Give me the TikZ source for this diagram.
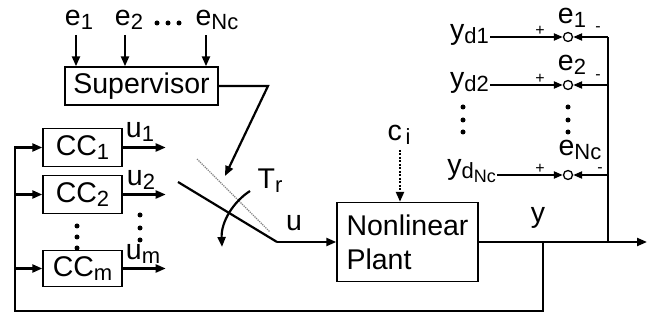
\documentclass[tikz,border=0pt]{standalone}
\usepackage{fontspec}
\setmainfont{Liberation Sans}
\usetikzlibrary{arrows.meta}
\newcommand\sbx[1]{\raisebox{-0.28ex}{\fontsize{22}{24}\selectfont #1}}
\newcommand\sbxx[1]{\raisebox{-0.35ex}{\fontsize{18}{20}\selectfont #1}}
\begin{document}
\begin{tikzpicture}[x=1pt,y=-1pt,
  font=\fontsize{28.5}{34}\selectfont,
  blk/.style={draw, line width=1.4pt, inner sep=0pt},
  lbl/.style={inner sep=1pt},
  ln/.style={line width=2.2pt},
  arr/.style={ln, -{Triangle[length=10pt,width=8pt]}},
  sarr/.style={line width=2pt, -{Triangle[length=9pt,width=7pt]}},
  sm/.style={inner sep=0pt, font=\fontsize{16}{16}\selectfont},
  dt/.style={fill, circle, inner sep=0pt, minimum size=5pt},
  sj/.style={draw, circle, line width=1.3pt, inner sep=0pt, minimum size=9pt}
]
\useasboundingbox (0,0) rectangle (656,320);

% blocks
\node[blk, minimum width=153pt, minimum height=38pt] (sup) at (141.5,86) {Supervisor};
\node[blk, minimum width=79pt, minimum height=38pt] (cc1) at (82.5,147.5) {CC\sbx{1}};
\node[blk, minimum width=79pt, minimum height=38pt] (cc2) at (82.5,194.5) {CC\sbx{2}};
\node[blk, minimum width=79pt, minimum height=36pt] (ccm) at (82.5,268.5) {CC\sbx{m}};
\node[blk, minimum width=141pt, minimum height=79pt, align=left] (plant) at (407.5,242) {Nonlinear\\Plant};

% supervisor inputs
\node[lbl] (e1) at (79,20) {e\sbx{1}};
\node[lbl] (e2) at (129,20) {e\sbx{2}};
\node[lbl] (eN) at (217,20) {e\sbx{Nc}};
\node[dt] (h1) at (157,23) {};
\node[dt] (h2) at (168,23) {};
\node[dt] (h3) at (179,23) {};
\draw[arr] ([xshift=-3pt,yshift=-4pt]e1.south) -- ([xshift=-3pt]e1.south |- sup.north);
\draw[arr] ([xshift=-4pt,yshift=-4pt]e2.south) -- ([xshift=-4pt]e2.south |- sup.north);
\draw[arr] ([xshift=-11pt,yshift=-4pt]eN.south) -- ([xshift=-11pt]eN.south |- sup.north);

% supervisor to switch
\coordinate (sk) at (268,86);
\coordinate (st) at (225,176);
\draw[arr] (sup.east) -- (sk) -- (st);

% controller outputs
\draw[arr] (cc1.east) -- ++(43,0) coordinate (u1e);
\draw[arr] (cc2.east) -- ++(43,0) coordinate (u2e);
\draw[arr] (ccm.east) -- ++(43,0) coordinate (ume);
\node[lbl] (u1) at (140,132) {u\sbx{1}};
\node[lbl] (u2) at (141,180) {u\sbx{2}};
\node[lbl] (um) at (143,254) {u\sbx{m}};
\node[dt] (a1) at (77,226) {};
\node[dt] (a2) at (77,237) {};
\node[dt] (a3) at (77,248) {};
\node[dt] (b1) at (140,215) {};
\node[dt] (b2) at (140,228) {};
\node[dt] (b3) at (140,240) {};

% switch
\coordinate (sw0) at (178,182);
\coordinate (sw1) at (277,242);
\draw[gray, line width=1.2pt, densely dotted] (197,159) -- (270,232);
\draw[ln] (sw0) -- (sw1);
\draw[arr] (sw1) -- (plant.west);
\coordinate (ta) at (250,191);
\coordinate (tb) at (222,247);
\draw[arr] (ta) .. controls (233,202) and (221,222) .. (tb);
\node[lbl] (tr) at (270,181) {T\sbx{r}};
\node[lbl] (u) at (294,223) {u};

% disturbance
\node[lbl] (ci) at (399,135) {c\sbx{\,i}};
\draw[line width=2.2pt, dash pattern=on 2pt off 1.5pt, -{Triangle[length=10pt,width=8pt]}] ([yshift=-4pt]ci.south -| 400,0) -- (plant.north -| 400,0);

% output
\coordinate (yo) at (647,242);
\coordinate (jy) at (543,242);
\coordinate (jr) at (608,242);
\coordinate (bl) at (15,311);
\draw[arr] (plant.east) -- (yo);
\node[lbl] (y) at (538,218) {y};

% feedback to controllers
\draw[arr] (jy) |- (bl) |- (cc1.west);
\draw[arr] (bl |- cc2.west) -- (cc2.west);
\draw[arr] (bl |- ccm.west) -- (ccm.west);

% error computation
\node[sj] (s1) at (568,37) {};
\node[sj] (s2) at (568,85) {};
\node[sj] (s3) at (568,175) {};
\node[lbl, anchor=mid east] (yd1) at (490,37) {y\sbx{d1}};
\node[lbl, anchor=mid east] (yd2) at (490,85) {y\sbx{d2}};
\node[lbl, anchor=mid east] (ydN) at (497,172) {y\sbx{d\sbxx{Nc}}};
\draw[sarr] (yd1.mid east) -- (s1.west);
\draw[sarr] (yd2.mid east) -- (s2.west);
\draw[sarr] (ydN.mid east |- s3.west) -- (s3.west);
\draw[ln] (jr) -- (jr |- s1.east);
\draw[sarr] (jr |- s1.east) -- (s1.east);
\draw[sarr] (jr |- s2.east) -- (s2.east);
\draw[sarr] (jr |- s3.east) -- (s3.east);
\node[lbl] (e1r) at (572,18) {e\sbx{1}};
\node[lbl] (e2r) at (572,65) {e\sbx{2}};
\node[inner sep=0pt] (eNr) at (580,150) {e\sbx{Nc}};
\node[sm] (p1) at (540,31) {+};
\node[sm] (p2) at (540,79) {+};
\node[sm] (p3) at (540,169) {+};
\node[sm] (m1) at (598,29) {-};
\node[sm] (m2) at (598,77) {-};
\node[sm] (m3) at (600,170) {-};
\node[dt] (c1) at (463,107) {};
\node[dt] (c2) at (463,120) {};
\node[dt] (c3) at (463,132) {};
\node[dt] (d1) at (568,107) {};
\node[dt] (d2) at (568,120) {};
\node[dt] (d3) at (568,132) {};
\end{tikzpicture}
\end{document}
